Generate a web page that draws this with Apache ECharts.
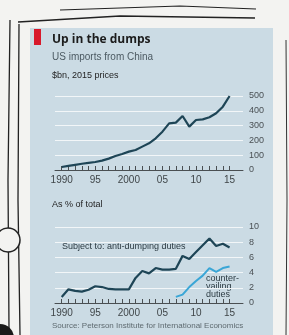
<!DOCTYPE html>
<html>
<head>
<meta charset="utf-8">
<script src="https://cdn.jsdelivr.net/npm/echarts@6/dist/echarts.min.js"></script>
<style>
  html, body { margin: 0; padding: 0; background: #f3f3f1; }
  #main { width: 289px; height: 335px; }
</style>
</head>
<body>
<div id="main"></div>
<script>
// data
var years = [1990,1991,1992,1993,1994,1995,1996,1997,1998,1999,2000,2001,2002,
             2003,2004,2005,2006,2007,2008,2009,2010,2011,2012,2013,2014,2015];
var imports = [20,28,35,42,48,54,63,77,95,108,124,135,158,
               180,214,259,315,320,365,293,338,342,356,383,428,500];
var antiDumping = [0.8,1.8,1.6,1.5,1.75,2.2,2.1,1.85,1.8,1.8,1.8,3.3,4.2,
                   3.9,4.6,4.4,4.4,4.5,6.2,5.8,6.7,7.6,8.5,7.5,7.8,7.3];
var cvYears = [2007,2008,2009,2010,2011,2012,2013,2014,2015];
var countervailing = [0.8,1.1,2.1,2.9,3.6,4.6,4.1,4.6,4.8];

var axisCats = [];
for (var y = 1989; y <= 2017; y++) axisCats.push(String(y));
function lbl(v) {
  var n = +v;
  if (n % 5 !== 0 || n < 1990 || n > 2015) return '';
  return (n % 100 === 0 || n === 1990) ? String(n) : String(n).slice(2);
}
function isYear(i, v) { return +v >= 1990 && +v <= 2015; }
function isLabel(i, v) { return +v >= 1990 && +v <= 2015 && +v % 5 === 0; }

function pairs(xs, vs) {
  return xs.map(function (x, i) { return [String(x), vs[i]]; });
}

var dark = '#1e4556';
var light = '#3aa6d6';
var panel = '#cbdbe4';

function xAxisFor(gi) {
  return {
    type: 'category', gridIndex: gi, data: axisCats, boundaryGap: false,
    axisLine: { lineStyle: { color: '#4a4f52', width: 1 } },
    axisTick: { show: true, inside: true, length: 4, interval: isYear,
                lineStyle: { color: '#4a4f52' } },
    axisLabel: { interval: isLabel, formatter: lbl, color: '#3f4548',
                 fontSize: 10, fontFamily: 'Liberation Sans Narrow, Arial Narrow, sans-serif', margin: 5 },
    splitLine: { show: false }
  };
}
function yAxisFor(gi, max, step) {
  return {
    type: 'value', gridIndex: gi, position: 'right', min: 0, max: max, interval: step,
    axisLine: { show: false }, axisTick: { show: false },
    axisLabel: { color: '#4a5054', fontSize: 9, margin: 6,
                 fontFamily: 'Liberation Sans Narrow, Arial Narrow, sans-serif' },
    splitLine: { lineStyle: { color: '#f2f6f8', width: 1 } }
  };
}

var chart = echarts.init(document.getElementById('main'));
chart.setOption({
  backgroundColor: '#f3f3f1',
  animation: false,
  graphic: [
    // the sketched frame around the cutting
    { type: 'polyline', shape: { points: [[18, 22], [120, 16], [255, 18]] }, style: { stroke: '#222', lineWidth: 1.5, fill: null } },
    { type: 'polyline', shape: { points: [[60, 10], [180, 6], [256, 9]] }, style: { stroke: '#222', lineWidth: 1.2, fill: null } },
    { type: 'polyline', shape: { points: [[10, 20], [8, 180], [9, 330]] }, style: { stroke: '#222', lineWidth: 1.3, fill: null } },
    { type: 'polyline', shape: { points: [[19, 24], [18, 200], [20, 335]] }, style: { stroke: '#222', lineWidth: 1.3, fill: null } },
    { type: 'polyline', shape: { points: [[286, 40], [287, 200], [286, 335]] }, style: { stroke: '#333', lineWidth: 1, fill: null } },
    { type: 'circle', shape: { cx: 8, cy: 240, r: 12 }, style: { stroke: '#222', lineWidth: 1.5, fill: '#f3f3f1' } },
    { type: 'circle', shape: { cx: 0, cy: 338, r: 14 }, style: { fill: '#1a1a1a' } },
    // panel
    { type: 'rect', shape: { x: 30, y: 28, width: 243, height: 310 }, style: { fill: panel }, z: -1 },
    { type: 'rect', shape: { x: 34, y: 29, width: 7, height: 16 }, style: { fill: '#d8192b' } },
    { type: 'text', left: 52, top: 34, style: { text: 'Up in the dumps', fill: '#1c1c1c',
      font: 'bold 12px "Open Sans", sans-serif' } },
    { type: 'text', left: 52, top: 52, style: { text: 'US imports from China', fill: '#4c5a62',
      font: '10px "Liberation Sans Narrow", sans-serif' } },
    { type: 'text', left: 52, top: 71, style: { text: '$bn, 2015 prices', fill: '#1e1e1e',
      font: '9px "Liberation Sans", sans-serif' } },
    { type: 'text', left: 52, top: 200, style: { text: 'As % of total', fill: '#1e1e1e',
      font: '9px "Liberation Sans", sans-serif' } },
    { type: 'text', left: 62, top: 242, style: { text: 'Subject to: anti-dumping duties', fill: '#2b3a42',
      font: '9px "Liberation Sans Narrow", sans-serif' } },
    { type: 'text', left: 206, top: 274, style: { text: 'counter-\nvailing\nduties', fill: '#2b3a42',
      align: 'center', font: '9px "Liberation Sans Narrow", sans-serif', lineHeight: 8 }, x: 14 },
    { type: 'text', left: 52, top: 322, style: { text: 'Source: Peterson Institute for International Economics', fill: '#5e6a70',
      font: '8px "Liberation Sans Narrow", sans-serif' } }
  ],
  grid: [
    { left: 55, right: 46, top: 96, height: 74 },
    { left: 55, right: 46, top: 227, height: 76 }
  ],
  xAxis: [xAxisFor(0), xAxisFor(1)],
  yAxis: [yAxisFor(0, 500, 100), yAxisFor(1, 10, 2)],
  series: [
    { type: 'line', xAxisIndex: 0, yAxisIndex: 0, data: pairs(years, imports),
      showSymbol: false, lineStyle: { color: dark, width: 2.2 } },
    { type: 'line', xAxisIndex: 1, yAxisIndex: 1, data: pairs(years, antiDumping),
      showSymbol: false, lineStyle: { color: dark, width: 2.2 } },
    { type: 'line', xAxisIndex: 1, yAxisIndex: 1, data: pairs(cvYears, countervailing),
      showSymbol: false, lineStyle: { color: light, width: 2 } }
  ]
});
</script>
</body>
</html>
